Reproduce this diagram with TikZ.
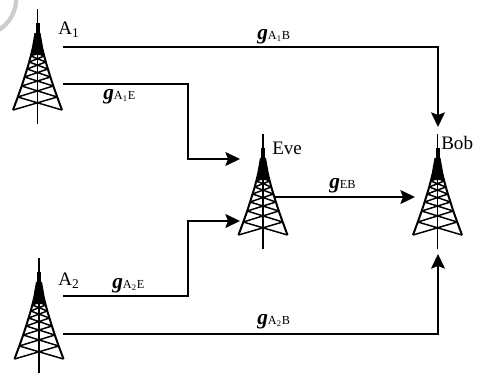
\documentclass[tikz,border=0pt]{standalone}
\usepackage{fontspec}
\setmainfont{Liberation Serif}
\usetikzlibrary{arrows.meta}
\newcommand{\gsym}{\textbf{\textit{g}}}
\tikzset{
  link/.style={line width=1.05pt,draw=black},
  arrowlink/.style={link,-{Stealth[length=11pt,width=10.5pt,inset=2pt]}},
  lab/.style={font=\fontsize{14.3pt}{16pt}\selectfont,inner sep=0pt},
  glabel/.style={inner sep=0pt},
}
\newcommand{\tower}[3]{% x, top y, name
  \begin{scope}[shift={(#1,#2)}]
    \draw[line width=1.1pt] (0,0) -- (0,115);
    \draw[line width=3pt] (0,14) -- (0,28);
    \fill (-2,24) -- (-4.5,38) -- (-5.8,46) -- (5.8,46) -- (4.5,38) -- (2,24) -- cycle;
    \draw[line width=1.5pt,line join=round]
      (-2,24) -- (-4.5,38) -- (-5.4,42) -- (-6.7,47) -- (-8.3,53) -- (-10.4,60) -- (-12.9,68) -- (-15.8,77) -- (-19.7,88) -- (-24.5,101)
      (2,24) -- (4.5,38) -- (5.4,42) -- (6.7,47) -- (8.3,53) -- (10.4,60) -- (12.9,68) -- (15.8,77) -- (19.7,88) -- (24.5,101);
    \foreach \ya/\yb/\xa/\xb in {38/42/4.5/5.4,42/47/5.4/6.7,47/53/6.7/8.3,53/60/8.3/10.4,60/68/10.4/12.9,68/77/12.9/15.8,77/88/15.8/19.7,88/101/19.7/24.5}{
      \draw[line width=1.1pt] (-\xa,\ya) -- (\xb,\yb) (\xa,\ya) -- (-\xb,\yb);
    }
    \coordinate (#3) at (0,50);
  \end{scope}
}
\begin{document}
\begin{tikzpicture}[x=0.75pt,y=-0.75pt]
\useasboundingbox (0,0) rectangle (479,372);
\fill[white] (0,0) rectangle (479,372);
\begin{scope}
\clip (0,0) rectangle (479,372);
\draw[line width=3.2pt,black!20] (16,-3) .. controls (17,10) and (10,24) .. (-3,31);
\end{scope}
\tower{37.5}{9}{ta}
\tower{39}{258}{tb}
\tower{263}{134}{te}
\tower{437.5}{134}{tc}
\coordinate (a1s) at (63,47);
\coordinate (a1e) at (63,84);
\coordinate (a2e) at (63,296);
\coordinate (a2b) at (63,334);
\coordinate (ees) at (275,197);
\coordinate (bt) at (438,127);
\coordinate (bb) at (438,254);
\coordinate (bl) at (415,197);
\coordinate (et) at (240,159);
\coordinate (el) at (240,221);
\draw[arrowlink] (a1s) -| (bt);
\draw[arrowlink] (a1e) -- (188,84) |- (et);
\draw[arrowlink] (a2e) -- (188,296) |- (el);
\draw[arrowlink] (a2b) -| (bb);
\draw[arrowlink] (ees) -- (bl);
\node[lab,anchor=west] (la1) at (58,30) {A\textsubscript{1}};
\node[lab,anchor=west] (la2) at (58,281) {A\textsubscript{2}};
\node[lab,anchor=west] (leve) at (272,148) {Eve};
\node[lab,anchor=west] (lbob) at (441,143) {Bob};
\newcommand{\glab}[1]{{\fontsize{16pt}{16pt}\selectfont\gsym}{\fontsize{9.2pt}{10pt}\selectfont #1}}
\node[glabel,anchor=west] (g1) at (257,37) {\glab{A\textsubscript{1}B}};
\node[glabel,anchor=west] (g2) at (103,97) {\glab{A\textsubscript{1}E}};
\node[glabel,anchor=west] (g3) at (112,286) {\glab{A\textsubscript{2}E}};
\node[glabel,anchor=west] (g4) at (257,322) {\glab{A\textsubscript{2}B}};
\node[glabel,anchor=west] (g5) at (329,186) {\glab{EB}};
\end{tikzpicture}
\end{document}
